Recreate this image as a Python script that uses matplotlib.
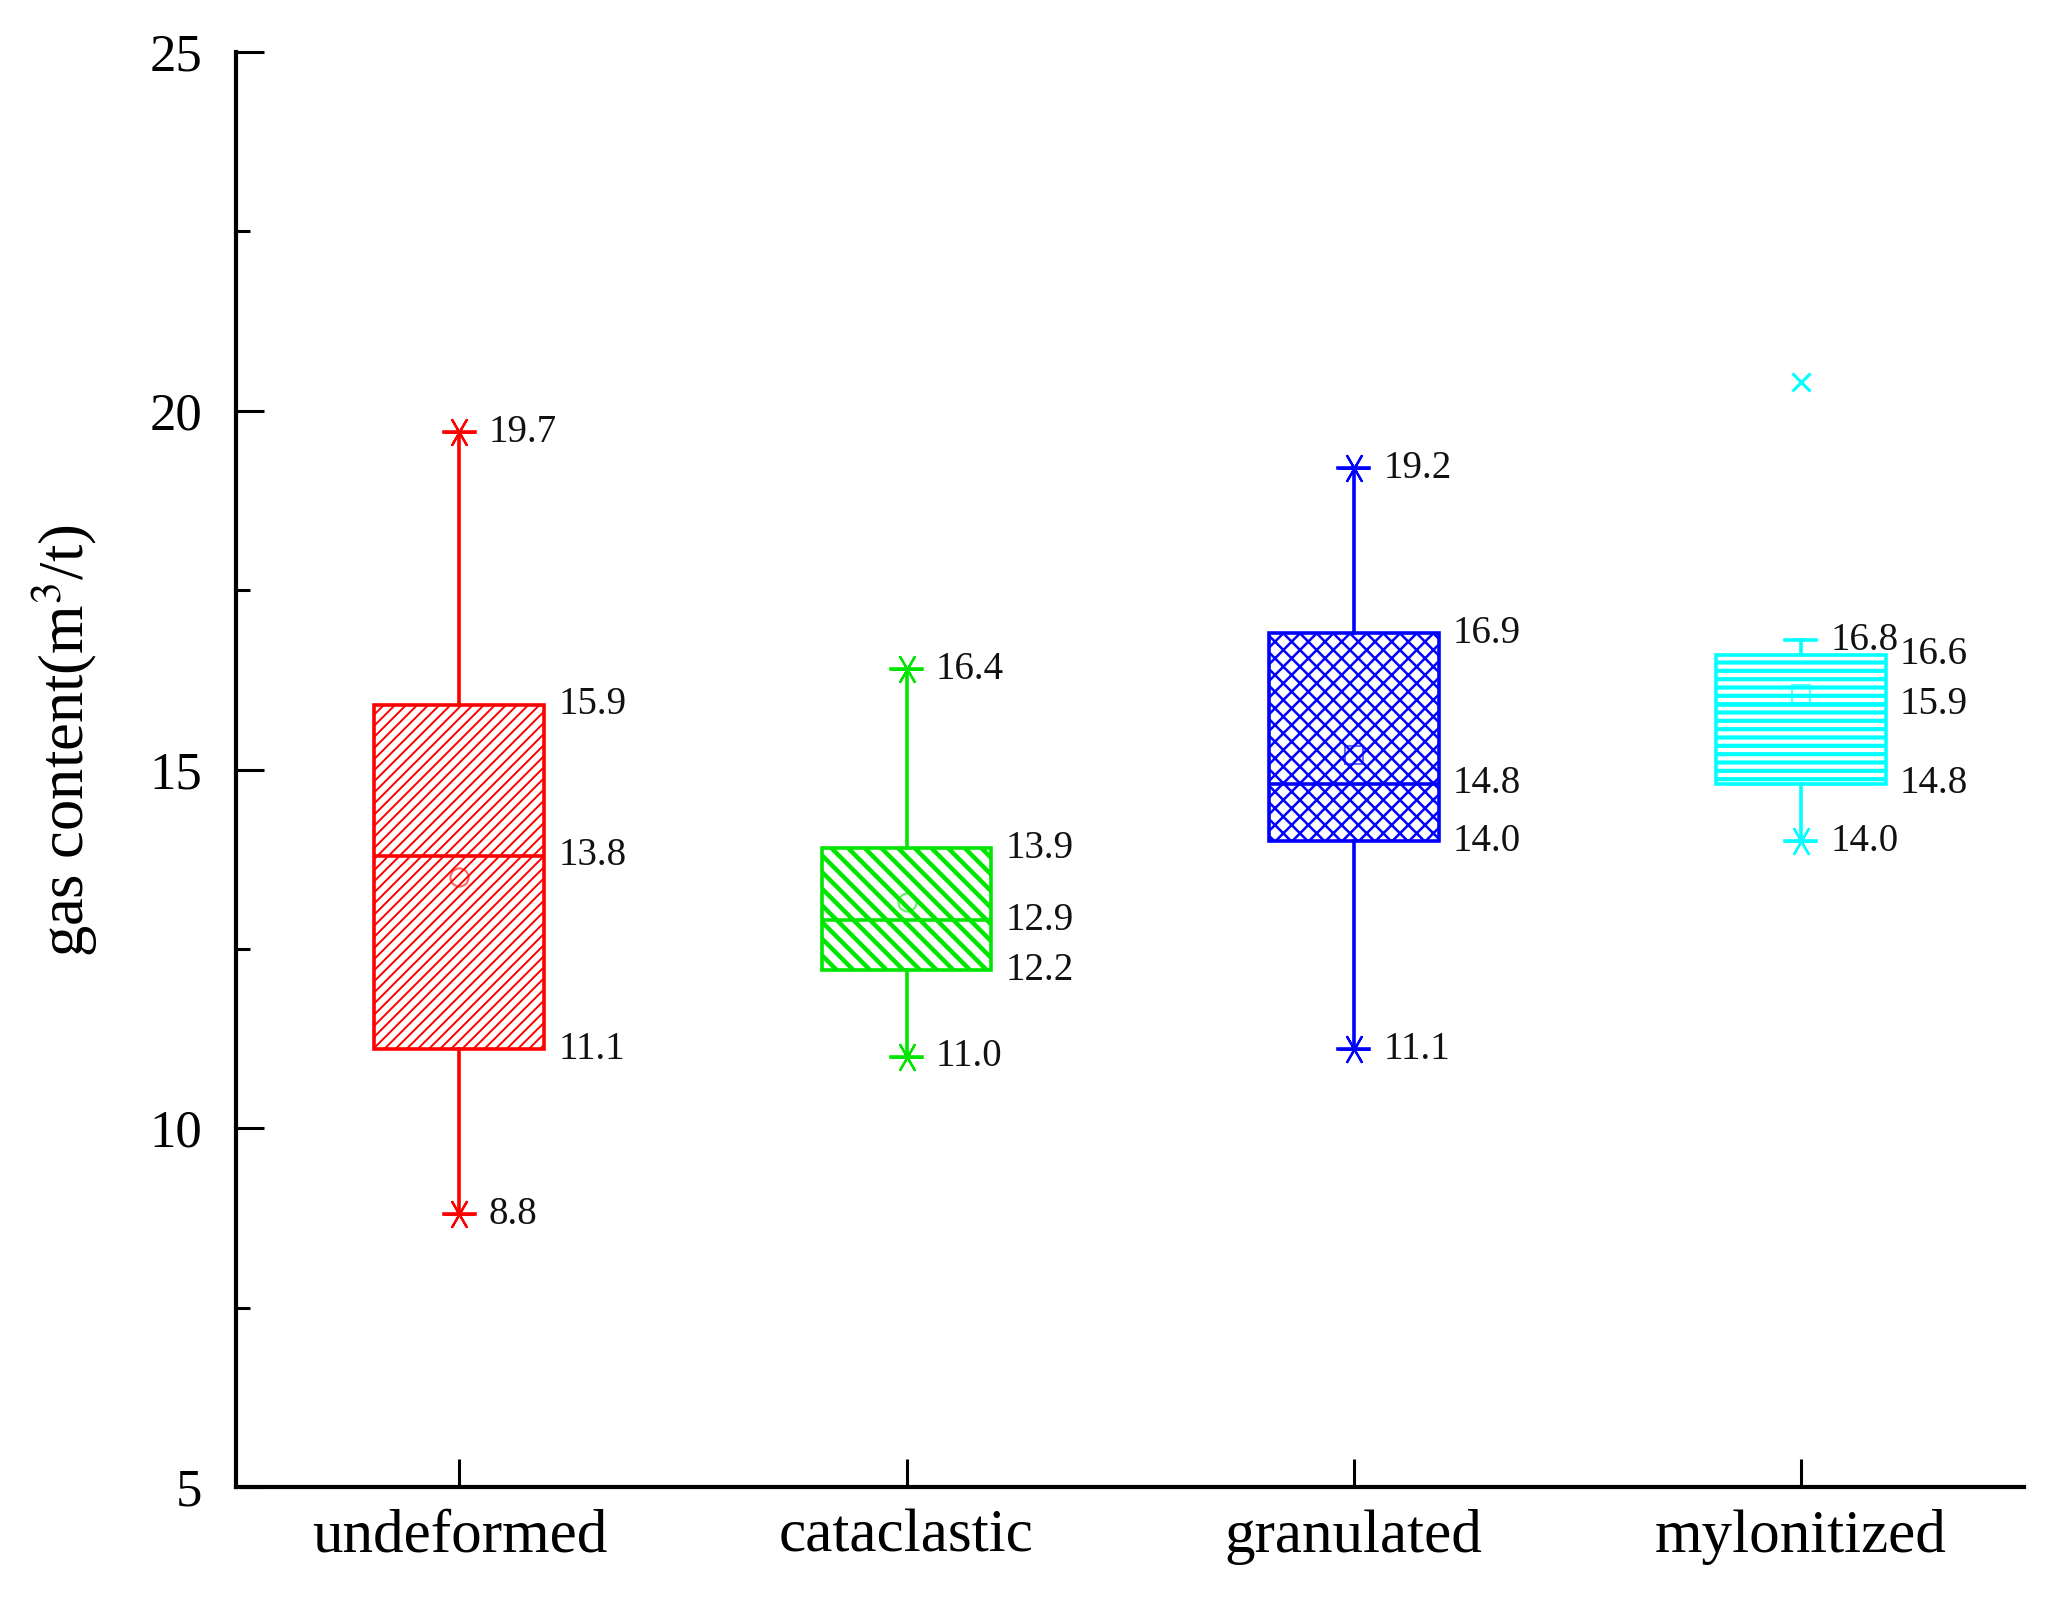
import numpy as np
import matplotlib.pyplot as plt
from matplotlib.ticker import MultipleLocator

plt.rcParams['font.family'] = ['Liberation Serif', 'DejaVu Serif']
plt.rcParams['mathtext.fontset'] = 'stix'

categories = ['undeformed', 'cataclastic', 'granulated', 'mylonitized']
q1 = [11.1, 12.2, 14.0, 14.8]
medians = [13.8, 12.9, 14.8, 15.9]
q3 = [15.9, 13.9, 16.9, 16.6]
whislo = [8.8, 11.0, 11.1, 14.0]
whishi = [19.7, 16.4, 19.2, 16.8]
means = [13.5, 13.15, 15.2, 16.05]
outliers = [[], [], [], [20.4]]
star_lo = [True, True, True, True]
star_hi = [True, True, True, False]

colors = ['#ff0000', '#00e600', '#0000ff', '#00ffff']
hatches = ['///', '\\\\', 'xx', '--']
hatch_lw = [1.4, 3.2, 1.8, 3.0]
mean_mk = ['o', 'o', 's', 's']

fig = plt.figure(figsize=(20.51, 16), dpi=100)
ax = fig.add_axes([0.115, 0.0706, 0.872, 0.8969])

pos = np.arange(1, len(categories) + 1)
bw = 0.38
cw = 0.07

for i in range(len(categories)):
    c = colors[i]
    plt.rcParams['hatch.linewidth'] = hatch_lw[i]
    stats = [{'med': medians[i], 'q1': q1[i], 'q3': q3[i],
              'whislo': whislo[i], 'whishi': whishi[i],
              'mean': means[i], 'fliers': outliers[i], 'label': categories[i]}]
    res = ax.bxp(stats, positions=[pos[i]], widths=bw, capwidths=cw,
                 patch_artist=True, showmeans=True, manage_ticks=False,
                 boxprops=dict(facecolor='white', edgecolor=c, linewidth=2.6, hatch=hatches[i]),
                 medianprops=dict(color=c, linewidth=2.6),
                 whiskerprops=dict(color=c, linewidth=2.6),
                 capprops=dict(color=c, linewidth=2.6),
                 meanprops=dict(marker=mean_mk[i], markerfacecolor='none',
                                markeredgecolor=c, markersize=13, alpha=0.6,
                                markeredgewidth=1.5),
                 flierprops=dict(marker='x', markeredgecolor=c, markersize=13,
                                 markeredgewidth=2.2))
    for b in res['boxes']:
        b.set_edgecolor(c)
        if hasattr(b, 'set_hatch_linewidth'):
            b.set_hatch_linewidth(hatch_lw[i])
    if star_lo[i]:
        ax.plot(pos[i], whislo[i], linestyle='none', marker=(6, 2, 90),
                markersize=22, markeredgecolor=c, markeredgewidth=1.6)
    if star_hi[i]:
        ax.plot(pos[i], whishi[i], linestyle='none', marker=(6, 2, 90),
                markersize=22, markeredgecolor=c, markeredgewidth=1.6)

    # value labels
    for v in [q1[i], medians[i], q3[i]]:
        ax.annotate('%.1f' % v, (pos[i] + bw / 2, v), xytext=(10, 0),
                    textcoords='offset points', ha='left', va='center',
                    fontsize=28, color='#111111')
    for v in [whislo[i], whishi[i]]:
        ax.annotate('%.1f' % v, (pos[i] + cw / 2, v), xytext=(10, 0),
                    textcoords='offset points', ha='left', va='center',
                    fontsize=28, color='#111111')

ax.set_xlim(0.5, 4.5)
ax.set_ylim(5, 25)
ax.set_xticks(pos)
ax.set_xticklabels(categories, fontsize=44)
ax.yaxis.set_major_locator(MultipleLocator(5))
ax.yaxis.set_minor_locator(MultipleLocator(2.5))
ax.tick_params(axis='y', labelsize=38, pad=24)
ax.tick_params(axis='x', pad=16)
ax.tick_params(which='major', direction='in', length=20, width=2.2)
ax.tick_params(which='minor', direction='in', length=10, width=2.2)
ax.spines['top'].set_visible(False)
ax.spines['right'].set_visible(False)
ax.spines['left'].set_linewidth(3.0)
ax.spines['bottom'].set_linewidth(3.0)

ax.set_ylabel('gas content(m$^3$/t)', fontsize=45)
ax.yaxis.set_label_coords(-0.076, 0.52)

fig.savefig('out.png', dpi=100)
